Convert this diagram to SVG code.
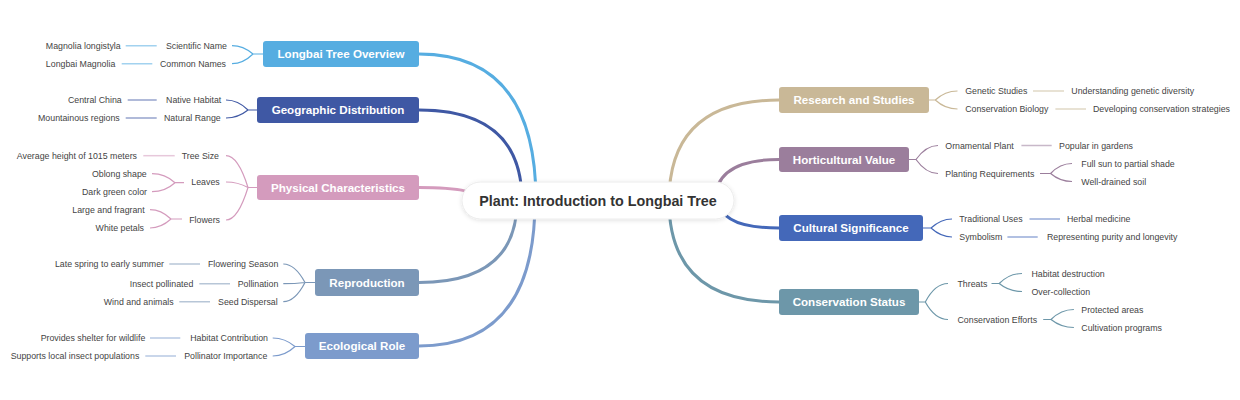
<svg xmlns="http://www.w3.org/2000/svg" width="1240" height="400" viewBox="0 0 1240 400">
<defs>
<filter id="sh" x="-10%" y="-40%" width="120%" height="180%">
<feDropShadow dx="0" dy="1" stdDeviation="2" flood-color="#000" flood-opacity="0.12"/>
</filter>
<style>
.t{font-family:"Liberation Sans",Arial,sans-serif;font-size:8.8px;fill:#444}
.l{text-anchor:end}
.m{font-family:"Liberation Sans",Arial,sans-serif;font-size:11.6px;font-weight:bold;fill:#fff;text-anchor:middle}
.r{font-family:"Liberation Sans",Arial,sans-serif;font-size:14.3px;font-weight:bold;fill:#333;text-anchor:middle}
.main{fill:none;stroke-width:3;stroke-linecap:round}
.br{fill:none;stroke-width:1.2}
.lf{fill:none;stroke-width:1.5;stroke-opacity:0.55}
.c1{stroke:#56ADE1}.c2{stroke:#3F58A4}.c3{stroke:#D49BBD}.c4{stroke:#7B97B7}.c5{stroke:#7C9BCC}
.c6{stroke:#C9B897}.c7{stroke:#9B7E9C}.c8{stroke:#4468B9}.c9{stroke:#6D97A9}
</style>
</defs>
<rect width="1240" height="400" fill="#fff"/>
<g id="connectors">
<path class="main c1" d="M536 201 Q536 54 419 54"/>
<path class="main c2" d="M522 201 Q522 110 419 110"/>
<path class="main c3" d="M480 201 Q480 187.5 419 187.5"/>
<path class="main c4" d="M517 201 Q517 282.5 419 282.5"/>
<path class="main c5" d="M535 201 Q535 346 419 346"/>
<path class="main c6" d="M669 201 Q669 100 779 100"/>
<path class="main c7" d="M715 201 Q715 159.5 779 159.5"/>
<path class="main c8" d="M720 201 Q720 228 779 228"/>
<path class="main c9" d="M669 201 Q669 302 779 302"/>

<path class="br c1" d="M253 54H263M253 54Q243 45.7 232 45.7M253 54Q243 63.7 232 63.7"/>
<path class="lf c1" d="M125.7 45.7H156.7M121.7 63.7H152.3"/>

<path class="br c2" d="M248 110H257M248 110Q238 100 226 100M248 110Q238 118 226 118"/>
<path class="lf c2" d="M127.7 100H156.7M125.7 118H156.7"/>

<path class="br c3" d="M248 187.5H257M248 187.5Q238 155.7 226 155.7M248 187.5Q238 182 226 182M248 187.5Q238 220 226 220"/>
<path class="lf c3" d="M143.3 155.7H174.7"/>
<path class="br c3" d="M175 182.7H184M175 182.7Q165 173.7 152 173.7M175 182.7Q165 191.7 152 191.7"/>
<path class="br c3" d="M171 219H182M171 219Q161 209.7 150 209.7M171 219Q161 228 150 228"/>

<path class="br c4" d="M305 282.5H315M305 282.5Q295 264 283.3 264M305 282.5Q295 283.7 283.3 283.7M305 282.5Q295 301.7 283.3 301.7"/>
<path class="lf c4" d="M169.3 264H200M199.3 283.7H230M179.3 301.7H210"/>

<path class="br c5" d="M295 346.5H305M295 346.5Q285 338 272.7 338M295 346.5Q285 356 272.7 356"/>
<path class="lf c5" d="M150 338H180.3M145.3 356H176"/>

<path class="br c6" d="M929 100H935.3M935.3 100Q945 91 957.5 91M935.3 100Q945 109 957.5 109"/>
<path class="lf c6" d="M1033 91H1064M1055.4 109H1086"/>

<path class="br c7" d="M909 159.5H916M916 159.5Q926 145.5 938 145.5M916 159.5Q926 173.5 938 173.5"/>
<path class="lf c7" d="M1021.4 145.5H1051.7"/>
<path class="br c7" d="M1040 173.5H1050.6M1050.6 173.5Q1060 163.5 1072 163.5M1050.6 173.5Q1060 181.5 1072 181.5"/>

<path class="br c8" d="M923 228H931M931 228Q941 219 952 219M931 228Q941 237 952 237"/>
<path class="lf c8" d="M1029.5 219H1060M1007.4 237H1037.7"/>

<path class="br c9" d="M919 302H925.3M925.3 302Q935 283.5 948 283.5M925.3 302Q935 319.5 948 319.5"/>
<path class="br c9" d="M991.5 283.5H999.2M999.2 283.5Q1009 273.5 1022 273.5M999.2 283.5Q1009 291.5 1022 291.5"/>
<path class="br c9" d="M1043.2 319.5H1051M1051 319.5Q1061 309.5 1073.9 309.5M1051 319.5Q1061 327.5 1073.9 327.5"/>
</g>

<g id="root">
<rect x="462" y="182" width="272" height="37" rx="18.5" fill="#fff" stroke="#ececec" filter="url(#sh)"/>
<text class="r" x="598" y="206">Plant: Introduction to Longbai Tree</text>
</g>

<g id="n-overview">
<rect x="263" y="41" width="156" height="26" rx="3" fill="#56ADE1"/>
<text class="m" x="341" y="58.1">Longbai Tree Overview</text>
<text class="t l" x="227" y="48.8">Scientific Name</text>
<text class="t l" x="226" y="66.8">Common Names</text>
<text class="t l" x="120.7" y="48.8">Magnolia longistyla</text>
<text class="t l" x="115.3" y="66.8">Longbai Magnolia</text>
</g>

<g id="n-geographic">
<rect x="257" y="97" width="162" height="26" rx="3" fill="#3F58A4"/>
<text class="m" x="338" y="114.1">Geographic Distribution</text>
<text class="t l" x="221.3" y="103.1">Native Habitat</text>
<text class="t l" x="220.7" y="121.1">Natural Range</text>
<text class="t l" x="121.7" y="103.1">Central China</text>
<text class="t l" x="119.7" y="121.1">Mountainous regions</text>
</g>

<g id="n-physical">
<rect x="257" y="175" width="162" height="25" rx="3" fill="#D49BBD"/>
<text class="m" x="338" y="191.6">Physical Characteristics</text>
<text class="t l" x="219" y="158.8">Tree Size</text>
<text class="t l" x="219.7" y="185.1">Leaves</text>
<text class="t l" x="220" y="223.1">Flowers</text>
<text class="t l" x="137" y="158.8">Average height of 1015 meters</text>
<text class="t l" x="146.7" y="176.8">Oblong shape</text>
<text class="t l" x="147" y="194.8">Dark green color</text>
<text class="t l" x="144.7" y="212.8">Large and fragrant</text>
<text class="t l" x="144" y="231.1">White petals</text>
</g>

<g id="n-reproduction">
<rect x="315" y="269" width="104" height="27" rx="3" fill="#7B97B7"/>
<text class="m" x="367" y="286.6">Reproduction</text>
<text class="t l" x="278.3" y="267.1">Flowering Season</text>
<text class="t l" x="278.3" y="286.8">Pollination</text>
<text class="t l" x="277.7" y="304.8">Seed Dispersal</text>
<text class="t l" x="164" y="267.1">Late spring to early summer</text>
<text class="t l" x="193.3" y="286.8">Insect pollinated</text>
<text class="t l" x="173.7" y="304.8">Wind and animals</text>
</g>

<g id="n-ecological">
<rect x="305" y="333" width="114" height="26" rx="3" fill="#7C9BCC"/>
<text class="m" x="362" y="350.1">Ecological Role</text>
<text class="t l" x="268" y="341.1">Habitat Contribution</text>
<text class="t l" x="267.3" y="359.1">Pollinator Importance</text>
<text class="t l" x="145.3" y="341.1">Provides shelter for wildlife</text>
<text class="t l" x="139.3" y="359.1">Supports local insect populations</text>
</g>

<g id="n-research">
<rect x="779" y="87" width="150" height="26" rx="3" fill="#C9B897"/>
<text class="m" x="854" y="104.1">Research and Studies</text>
<text class="t" x="965.2" y="94.1">Genetic Studies</text>
<text class="t" x="965.2" y="112.1">Conservation Biology</text>
<text class="t" x="1071.3" y="94.1">Understanding genetic diversity</text>
<text class="t" x="1093" y="112.1">Developing conservation strategies</text>
</g>

<g id="n-horticultural">
<rect x="779" y="147" width="130" height="25" rx="3" fill="#9B7E9C"/>
<text class="m" x="844" y="163.6">Horticultural Value</text>
<text class="t" x="945.3" y="148.6">Ornamental Plant</text>
<text class="t" x="945.3" y="176.6">Planting Requirements</text>
<text class="t" x="1059.1" y="148.6">Popular in gardens</text>
<text class="t" x="1081.3" y="166.6">Full sun to partial shade</text>
<text class="t" x="1081.3" y="184.6">Well-drained soil</text>
</g>

<g id="n-cultural">
<rect x="779" y="215" width="144" height="26" rx="3" fill="#4468B9"/>
<text class="m" x="851" y="232.1">Cultural Significance</text>
<text class="t" x="959.3" y="222.1">Traditional Uses</text>
<text class="t" x="959.3" y="240.1">Symbolism</text>
<text class="t" x="1066.9" y="222.1">Herbal medicine</text>
<text class="t" x="1046.9" y="240.1">Representing purity and longevity</text>
</g>

<g id="n-conservation">
<rect x="779" y="289" width="140" height="26" rx="3" fill="#6D97A9"/>
<text class="m" x="849" y="306.1">Conservation Status</text>
<text class="t" x="957.5" y="286.6">Threats</text>
<text class="t" x="957.5" y="322.6">Conservation Efforts</text>
<text class="t" x="1031.4" y="276.6">Habitat destruction</text>
<text class="t" x="1031.4" y="294.6">Over-collection</text>
<text class="t" x="1081.3" y="312.6">Protected areas</text>
<text class="t" x="1081.3" y="330.6">Cultivation programs</text>
</g>
</svg>
